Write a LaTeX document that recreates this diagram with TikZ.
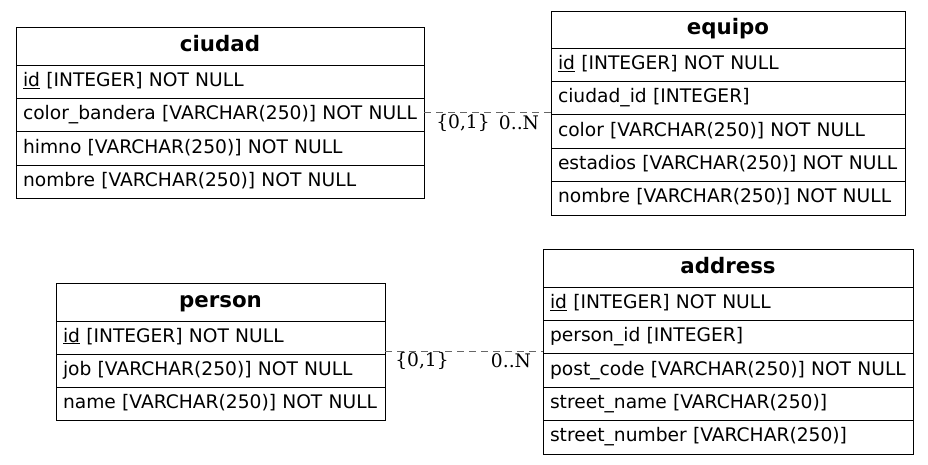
\documentclass[tikz,border=0pt]{standalone}
\usepackage{fontspec}
\setmainfont{DejaVu Sans}
\newfontfamily\lblfont{DejaVu Serif}
\newcommand\ftx[1]{\mbox{#1}}
\begin{document}
\begin{tikzpicture}[x=1pt,y=-1pt,
  every node/.style={font=\fontsize{18.67}{22}\selectfont, outer sep=0pt},
  hdr/.style={draw=black, line width=1pt, anchor=north west, minimum width=#1, minimum height=38pt, inner sep=0pt, text height=15.5pt, text depth=5pt, font=\fontsize{21.33}{25}\selectfont\bfseries},
  fld/.style={draw=black, line width=1pt, anchor=north west, text width=#1-14pt, align=left, inner xsep=7pt, inner ysep=0pt, text height=14pt, text depth=5pt, minimum height=33.4pt},
  conn/.style={draw=black!60, line width=0.8pt, dash pattern=on 7pt off 5pt},
  card/.style={font=\lblfont\fontsize{18.67}{22}\selectfont, inner sep=0pt}
]
\useasboundingbox (0,0) rectangle (928,464);
% ciudad
\node[hdr=408pt] (ciudad) at (16,27) {ciudad};
\node[fld=408pt] (ciudad1) at (ciudad.south west) {\ftx{\underline{id} [INTEGER] NOT NULL}};
\node[fld=408pt] (ciudad2) at (ciudad1.south west) {\ftx{color\_bandera [VARCHAR(250)] NOT NULL}};
\node[fld=408pt] (ciudad3) at (ciudad2.south west) {\ftx{himno [VARCHAR(250)] NOT NULL}};
\node[fld=408pt] (ciudad4) at (ciudad3.south west) {\ftx{nombre [VARCHAR(250)] NOT NULL}};
% equipo
\node[hdr=354pt, minimum height=37pt] (equipo) at (551,11) {equipo};
\node[fld=354pt] (equipo1) at (equipo.south west) {\ftx{\underline{id} [INTEGER] NOT NULL}};
\node[fld=354pt] (equipo2) at (equipo1.south west) {\ftx{ciudad\_id [INTEGER]}};
\node[fld=354pt] (equipo3) at (equipo2.south west) {\ftx{color [VARCHAR(250)] NOT NULL}};
\node[fld=354pt] (equipo4) at (equipo3.south west) {\ftx{estadios [VARCHAR(250)] NOT NULL}};
\node[fld=354pt] (equipo5) at (equipo4.south west) {\ftx{nombre [VARCHAR(250)] NOT NULL}};
% person
\node[hdr=329pt] (person) at (56,283) {person};
\node[fld=329pt, minimum height=33pt] (person1) at (person.south west) {\ftx{\underline{id} [INTEGER] NOT NULL}};
\node[fld=329pt, minimum height=33pt] (person2) at (person1.south west) {\ftx{job [VARCHAR(250)] NOT NULL}};
\node[fld=329pt, minimum height=33pt] (person3) at (person2.south west) {\ftx{name [VARCHAR(250)] NOT NULL}};
% address
\node[hdr=370pt] (address) at (543,249) {address};
\node[fld=370pt] (address1) at (address.south west) {\ftx{\underline{id} [INTEGER] NOT NULL}};
\node[fld=370pt] (address2) at (address1.south west) {\ftx{person\_id [INTEGER]}};
\node[fld=370pt] (address3) at (address2.south west) {\ftx{post\_code [VARCHAR(250)] NOT NULL}};
\node[fld=370pt] (address4) at (address3.south west) {\ftx{street\_name [VARCHAR(250)]}};
\node[fld=370pt] (address5) at (address4.south west) {\ftx{street\_number [VARCHAR(250)]}};
% connectors
\coordinate (r1a) at (ciudad.east |- 0,112);
\coordinate (r1b) at (equipo.west |- 0,112);
\draw[conn] (r1a) -- (r1b);
\node[card] (r1l) at (463,123) {\{0,1\}};
\node[card] (r1r) at (519,123) {0..N};
\coordinate (r2a) at (person.east |- 0,351);
\coordinate (r2b) at (address.west |- 0,351);
\draw[conn] (r2a) -- (r2b);
\node[card] (r2l) at (422,361) {\{0,1\}};
\node[card] (r2r) at (511,361) {0..N};
\end{tikzpicture}
\end{document}
